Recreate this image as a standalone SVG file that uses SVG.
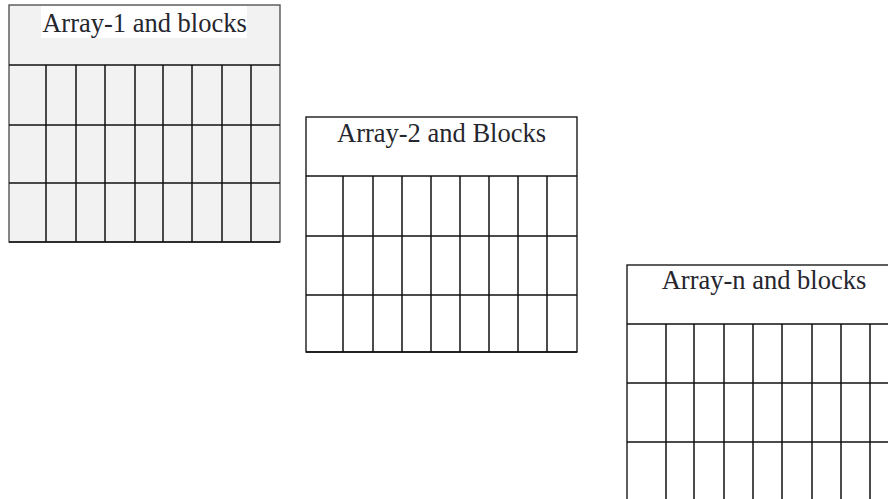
<svg xmlns="http://www.w3.org/2000/svg" width="888" height="499" viewBox="0 0 888 499">
<style>
.frame{stroke:#1a1a1a;stroke-width:1.4;fill:none}
.grid line{stroke:#111111;stroke-width:1.5}
.lbl{font-family:"Liberation Serif","Times New Roman",serif;font-size:26.5px;fill:#26262e;text-anchor:middle}
</style>
<rect width="888" height="499" fill="#ffffff"/>
<g id="array1">
<rect x="9" y="5" width="271" height="237" fill="#f2f2f2"/>
<rect x="41" y="6" width="206" height="32" fill="#ffffff"/>
<text class="lbl" x="144.5" y="32">Array-1 and blocks</text>
<rect class="frame" x="9" y="5" width="271" height="237" style="stroke:#555"/>
<g class="grid">
<line x1="9" y1="65" x2="280" y2="65"/><line x1="9" y1="125" x2="280" y2="125"/><line x1="9" y1="183" x2="280" y2="183"/><line x1="9" y1="242" x2="280" y2="242"/>
<line x1="46" y1="65" x2="46" y2="242"/><line x1="76" y1="65" x2="76" y2="242"/><line x1="105" y1="65" x2="105" y2="242"/><line x1="135" y1="65" x2="135" y2="242"/><line x1="163" y1="65" x2="163" y2="242"/><line x1="192" y1="65" x2="192" y2="242"/><line x1="222" y1="65" x2="222" y2="242"/><line x1="251" y1="65" x2="251" y2="242"/>
</g>
</g>
<g id="array2">
<rect x="306" y="117" width="271" height="235" fill="#ffffff"/>
<text class="lbl" x="441.5" y="142">Array-2 and Blocks</text>
<rect class="frame" x="306" y="117" width="271" height="235"/>
<g class="grid">
<line x1="306" y1="176" x2="577" y2="176"/><line x1="306" y1="236" x2="577" y2="236"/><line x1="306" y1="295" x2="577" y2="295"/><line x1="306" y1="352" x2="577" y2="352"/>
<line x1="343" y1="176" x2="343" y2="352"/><line x1="373" y1="176" x2="373" y2="352"/><line x1="402" y1="176" x2="402" y2="352"/><line x1="431" y1="176" x2="431" y2="352"/><line x1="460" y1="176" x2="460" y2="352"/><line x1="489" y1="176" x2="489" y2="352"/><line x1="518" y1="176" x2="518" y2="352"/><line x1="547" y1="176" x2="547" y2="352"/>
</g>
</g>
<g id="arrayn">
<rect x="627" y="265" width="272" height="240" fill="#ffffff"/>
<text class="lbl" x="764" y="289">Array-n and blocks</text>
<rect class="frame" x="627" y="265" width="272" height="240"/>
<g class="grid">
<line x1="627" y1="324" x2="899" y2="324"/><line x1="627" y1="383" x2="899" y2="383"/><line x1="627" y1="442" x2="899" y2="442"/>
<line x1="666" y1="324" x2="666" y2="505"/><line x1="694" y1="324" x2="694" y2="505"/><line x1="724" y1="324" x2="724" y2="505"/><line x1="753" y1="324" x2="753" y2="505"/><line x1="782" y1="324" x2="782" y2="505"/><line x1="812" y1="324" x2="812" y2="505"/><line x1="841" y1="324" x2="841" y2="505"/><line x1="870" y1="324" x2="870" y2="505"/>
</g>
</g>
<g id="connectors"></g>
</svg>
